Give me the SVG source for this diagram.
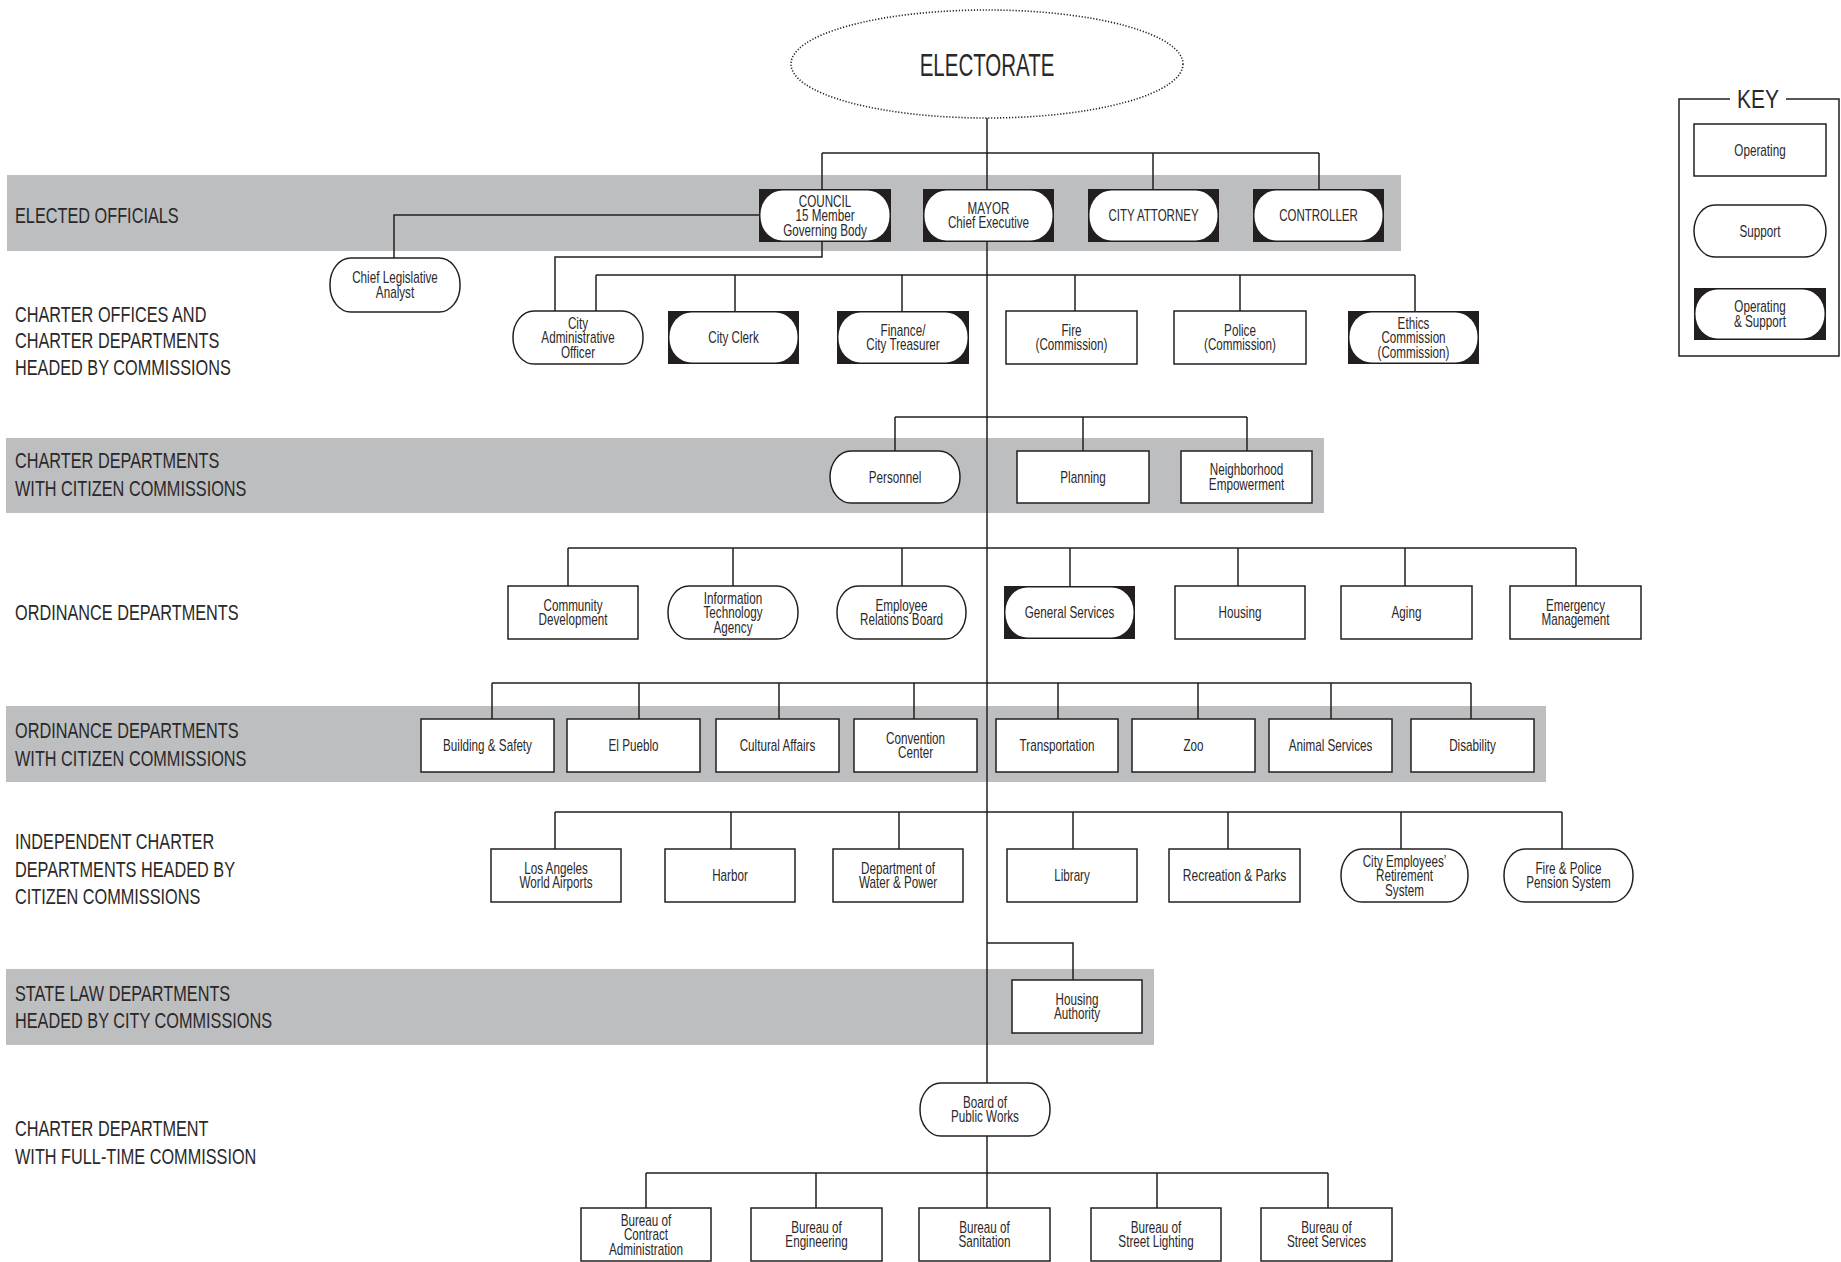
<svg xmlns="http://www.w3.org/2000/svg" width="1841" height="1262" viewBox="0 0 1841 1262">
<style>
.band{fill:#bcbec0}
.op{fill:#fff;stroke:#231f20;stroke-width:1.5}
.sup{fill:#fff;stroke:#231f20;stroke-width:1.5}
.osb{fill:#231f20}
.osw{fill:#fff}
.c{fill:none;stroke:#231f20;stroke-width:1.5}
.t{font-family:"Liberation Sans",Arial,sans-serif;font-size:16px;fill:#2b2829;text-anchor:middle}
.l{font-family:"Liberation Sans",Arial,sans-serif;font-size:22px;fill:#2b2829}
</style>
<rect width="1841" height="1262" fill="#fff"/>
<g id="bands">
<rect class="band" x="7" y="175" width="1394" height="76"/>
<rect class="band" x="6" y="438" width="1318" height="75"/>
<rect class="band" x="6" y="706" width="1540" height="76"/>
<rect class="band" x="6" y="969" width="1148" height="76"/>
</g>
<g id="row-labels">
<text class="l" transform="translate(15,0) scale(.74 1)"><tspan x="0" y="223">ELECTED OFFICIALS</tspan></text>
<text class="l" transform="translate(15,0) scale(.74 1)"><tspan x="0" y="322">CHARTER OFFICES AND</tspan><tspan x="0" y="348.5">CHARTER DEPARTMENTS</tspan><tspan x="0" y="375.5">HEADED BY COMMISSIONS</tspan></text>
<text class="l" transform="translate(15,0) scale(.74 1)"><tspan x="0" y="468.5">CHARTER DEPARTMENTS</tspan><tspan x="0" y="496">WITH CITIZEN COMMISSIONS</tspan></text>
<text class="l" transform="translate(15,0) scale(.74 1)"><tspan x="0" y="620">ORDINANCE DEPARTMENTS</tspan></text>
<text class="l" transform="translate(15,0) scale(.74 1)"><tspan x="0" y="738">ORDINANCE DEPARTMENTS</tspan><tspan x="0" y="766">WITH CITIZEN COMMISSIONS</tspan></text>
<text class="l" transform="translate(15,0) scale(.74 1)"><tspan x="0" y="849">INDEPENDENT CHARTER</tspan><tspan x="0" y="877">DEPARTMENTS HEADED BY</tspan><tspan x="0" y="904">CITIZEN COMMISSIONS</tspan></text>
<text class="l" transform="translate(15,0) scale(.74 1)"><tspan x="0" y="1001">STATE LAW DEPARTMENTS</tspan><tspan x="0" y="1028">HEADED BY CITY COMMISSIONS</tspan></text>
<text class="l" transform="translate(15,0) scale(.74 1)"><tspan x="0" y="1136">CHARTER DEPARTMENT</tspan><tspan x="0" y="1164">WITH FULL-TIME COMMISSION</tspan></text>
</g>
<g id="connectors">
<path class="c" d="M987,118 V1208"/>
<path class="c" d="M822,153 H1319 M822,153 V189 M1153,153 V189 M1319,153 V189"/>
<path class="c" d="M759,215 H394 V258"/>
<path class="c" d="M822,242 V257 H555 V311"/>
<path class="c" d="M596,275 H1415 M596,275 V311 M735,275 V311 M902,275 V311 M1075,275 V311 M1240,275 V311 M1415,275 V311"/>
<path class="c" d="M895,417 H1247 M895,417 V451 M1083,417 V451 M1247,417 V451"/>
<path class="c" d="M568,548 H1576 M568,548 V586 M733,548 V586 M902,548 V586 M1070,548 V586 M1238,548 V586 M1405,548 V586 M1576,548 V586"/>
<path class="c" d="M492,683 H1471 M492,683 V719 M639,683 V719 M779,683 V719 M914,683 V719 M1058,683 V719 M1198,683 V719 M1331,683 V719 M1471,683 V719"/>
<path class="c" d="M555,812 H1562 M555,812 V849 M731,812 V849 M899,812 V849 M1073,812 V849 M1228,812 V849 M1401,812 V849 M1562,812 V849"/>
<path class="c" d="M987,943 H1073 V980"/>
<path class="c" d="M646,1173 H1328 M646,1173 V1208 M816,1173 V1208 M1157,1173 V1208 M1328,1173 V1208"/>
</g>
<g id="electorate">
<ellipse cx="987" cy="64" rx="196" ry="54" fill="#fff" stroke="#231f20" stroke-width="1.6" stroke-dasharray="1.2 1.8"/>
<text class="t" style="font-size:32px" transform="translate(987,0) scale(.64 1)"><tspan x="0" y="76">ELECTORATE</tspan></text>
</g>
<g id="council">
<rect class="osb" x="759" y="189" width="132" height="53"/><rect class="osw" x="760.5" y="190.5" width="129" height="50" rx="22" ry="24"/>
<text class="t" transform="translate(825,0) scale(.73 1)"><tspan x="0" y="206.7">COUNCIL</tspan><tspan x="0" y="221.2">15 Member</tspan><tspan x="0" y="235.7">Governing Body</tspan></text>
</g>
<g id="mayor">
<rect class="osb" x="923" y="189" width="131" height="53"/><rect class="osw" x="924.5" y="190.5" width="128" height="50" rx="22" ry="24"/>
<text class="t" transform="translate(988.5,0) scale(.73 1)"><tspan x="0" y="214">MAYOR</tspan><tspan x="0" y="228.5">Chief Executive</tspan></text>
</g>
<g id="city-attorney">
<rect class="osb" x="1088" y="189" width="131" height="53"/><rect class="osw" x="1089.5" y="190.5" width="128" height="50" rx="22" ry="24"/>
<text class="t" transform="translate(1153.5,0) scale(.72 1)"><tspan x="0" y="221.2">CITY ATTORNEY</tspan></text>
</g>
<g id="controller">
<rect class="osb" x="1253" y="189" width="131" height="53"/><rect class="osw" x="1254.5" y="190.5" width="128" height="50" rx="22" ry="24"/>
<text class="t" transform="translate(1318.5,0) scale(.72 1)"><tspan x="0" y="221.2">CONTROLLER</tspan></text>
</g>
<g id="chief-legislative-analyst">
<rect class="sup" x="330" y="258" width="130" height="54" rx="21" ry="26"/>
<text class="t" transform="translate(395,0) scale(.73 1)"><tspan x="0" y="283.5">Chief Legislative</tspan><tspan x="0" y="298">Analyst</tspan></text>
</g>
<g id="cao">
<rect class="sup" x="513" y="311" width="130" height="53" rx="21" ry="26"/>
<text class="t" transform="translate(578,0) scale(.73 1)"><tspan x="0" y="328.7">City</tspan><tspan x="0" y="343.2">Administrative</tspan><tspan x="0" y="357.7">Officer</tspan></text>
</g>
<g id="city-clerk">
<rect class="osb" x="668" y="311" width="131" height="53"/><rect class="osw" x="669.5" y="312.5" width="128" height="50" rx="22" ry="24"/>
<text class="t" transform="translate(733.5,0) scale(.73 1)"><tspan x="0" y="343.2">City Clerk</tspan></text>
</g>
<g id="finance">
<rect class="osb" x="837" y="311" width="132" height="53"/><rect class="osw" x="838.5" y="312.5" width="129" height="50" rx="22" ry="24"/>
<text class="t" transform="translate(903,0) scale(.73 1)"><tspan x="0" y="336">Finance/</tspan><tspan x="0" y="350.5">City Treasurer</tspan></text>
</g>
<g id="fire">
<rect class="op" x="1006" y="311" width="131" height="53"/>
<text class="t" transform="translate(1071.5,0) scale(.73 1)"><tspan x="0" y="336">Fire</tspan><tspan x="0" y="350.5">(Commission)</tspan></text>
</g>
<g id="police">
<rect class="op" x="1174" y="311" width="132" height="53"/>
<text class="t" transform="translate(1240,0) scale(.73 1)"><tspan x="0" y="336">Police</tspan><tspan x="0" y="350.5">(Commission)</tspan></text>
</g>
<g id="ethics">
<rect class="osb" x="1348" y="311" width="131" height="53"/><rect class="osw" x="1349.5" y="312.5" width="128" height="50" rx="22" ry="24"/>
<text class="t" transform="translate(1413.5,0) scale(.73 1)"><tspan x="0" y="328.7">Ethics</tspan><tspan x="0" y="343.2">Commission</tspan><tspan x="0" y="357.7">(Commission)</tspan></text>
</g>
<g id="personnel">
<rect class="sup" x="830" y="451" width="130" height="52" rx="21" ry="26"/>
<text class="t" transform="translate(895,0) scale(.73 1)"><tspan x="0" y="482.7">Personnel</tspan></text>
</g>
<g id="planning">
<rect class="op" x="1017" y="451" width="132" height="52"/>
<text class="t" transform="translate(1083,0) scale(.73 1)"><tspan x="0" y="482.7">Planning</tspan></text>
</g>
<g id="neighborhood-empowerment">
<rect class="op" x="1181" y="451" width="131" height="52"/>
<text class="t" transform="translate(1246.5,0) scale(.73 1)"><tspan x="0" y="475.5">Neighborhood</tspan><tspan x="0" y="490">Empowerment</tspan></text>
</g>
<g id="community-development">
<rect class="op" x="508" y="586" width="130" height="53"/>
<text class="t" transform="translate(573,0) scale(.73 1)"><tspan x="0" y="611">Community</tspan><tspan x="0" y="625.5">Development</tspan></text>
</g>
<g id="ita">
<rect class="sup" x="668" y="586" width="130" height="53" rx="21" ry="26"/>
<text class="t" transform="translate(733,0) scale(.73 1)"><tspan x="0" y="603.7">Information</tspan><tspan x="0" y="618.2">Technology</tspan><tspan x="0" y="632.7">Agency</tspan></text>
</g>
<g id="erb">
<rect class="sup" x="837" y="586" width="129" height="53" rx="21" ry="26"/>
<text class="t" transform="translate(901.5,0) scale(.73 1)"><tspan x="0" y="611">Employee</tspan><tspan x="0" y="625.5">Relations Board</tspan></text>
</g>
<g id="general-services">
<rect class="osb" x="1004" y="586" width="131" height="53"/><rect class="osw" x="1005.5" y="587.5" width="128" height="50" rx="22" ry="24"/>
<text class="t" transform="translate(1069.5,0) scale(.73 1)"><tspan x="0" y="618.2">General Services</tspan></text>
</g>
<g id="housing">
<rect class="op" x="1175" y="586" width="130" height="53"/>
<text class="t" transform="translate(1240,0) scale(.73 1)"><tspan x="0" y="618.2">Housing</tspan></text>
</g>
<g id="aging">
<rect class="op" x="1341" y="586" width="131" height="53"/>
<text class="t" transform="translate(1406.5,0) scale(.73 1)"><tspan x="0" y="618.2">Aging</tspan></text>
</g>
<g id="emergency-management">
<rect class="op" x="1510" y="586" width="131" height="53"/>
<text class="t" transform="translate(1575.5,0) scale(.73 1)"><tspan x="0" y="611">Emergency</tspan><tspan x="0" y="625.5">Management</tspan></text>
</g>
<g id="building-safety">
<rect class="op" x="421" y="719" width="133" height="53"/>
<text class="t" transform="translate(487.5,0) scale(.73 1)"><tspan x="0" y="751.2">Building &amp; Safety</tspan></text>
</g>
<g id="el-pueblo">
<rect class="op" x="567" y="719" width="133" height="53"/>
<text class="t" transform="translate(633.5,0) scale(.73 1)"><tspan x="0" y="751.2">El Pueblo</tspan></text>
</g>
<g id="cultural-affairs">
<rect class="op" x="716" y="719" width="123" height="53"/>
<text class="t" transform="translate(777.5,0) scale(.73 1)"><tspan x="0" y="751.2">Cultural Affairs</tspan></text>
</g>
<g id="convention-center">
<rect class="op" x="854" y="719" width="123" height="53"/>
<text class="t" transform="translate(915.5,0) scale(.73 1)"><tspan x="0" y="744">Convention</tspan><tspan x="0" y="758.5">Center</tspan></text>
</g>
<g id="transportation">
<rect class="op" x="996" y="719" width="122" height="53"/>
<text class="t" transform="translate(1057,0) scale(.73 1)"><tspan x="0" y="751.2">Transportation</tspan></text>
</g>
<g id="zoo">
<rect class="op" x="1132" y="719" width="123" height="53"/>
<text class="t" transform="translate(1193.5,0) scale(.73 1)"><tspan x="0" y="751.2">Zoo</tspan></text>
</g>
<g id="animal-services">
<rect class="op" x="1269" y="719" width="123" height="53"/>
<text class="t" transform="translate(1330.5,0) scale(.73 1)"><tspan x="0" y="751.2">Animal Services</tspan></text>
</g>
<g id="disability">
<rect class="op" x="1411" y="719" width="123" height="53"/>
<text class="t" transform="translate(1472.5,0) scale(.73 1)"><tspan x="0" y="751.2">Disability</tspan></text>
</g>
<g id="lawa">
<rect class="op" x="491" y="849" width="130" height="53"/>
<text class="t" transform="translate(556,0) scale(.73 1)"><tspan x="0" y="874">Los Angeles</tspan><tspan x="0" y="888.5">World Airports</tspan></text>
</g>
<g id="harbor">
<rect class="op" x="665" y="849" width="130" height="53"/>
<text class="t" transform="translate(730,0) scale(.73 1)"><tspan x="0" y="881.2">Harbor</tspan></text>
</g>
<g id="dwp">
<rect class="op" x="833" y="849" width="130" height="53"/>
<text class="t" transform="translate(898,0) scale(.73 1)"><tspan x="0" y="874">Department of</tspan><tspan x="0" y="888.5">Water &amp; Power</tspan></text>
</g>
<g id="library">
<rect class="op" x="1007" y="849" width="130" height="53"/>
<text class="t" transform="translate(1072,0) scale(.73 1)"><tspan x="0" y="881.2">Library</tspan></text>
</g>
<g id="recreation-parks">
<rect class="op" x="1169" y="849" width="131" height="53"/>
<text class="t" transform="translate(1234.5,0) scale(.75 1)"><tspan x="0" y="881.2">Recreation &amp; Parks</tspan></text>
</g>
<g id="cers">
<rect class="sup" x="1341" y="849" width="127" height="53" rx="21" ry="26"/>
<text class="t" transform="translate(1404.5,0) scale(.73 1)"><tspan x="0" y="866.7">City Employees’</tspan><tspan x="0" y="881.2">Retirement</tspan><tspan x="0" y="895.7">System</tspan></text>
</g>
<g id="fire-police-pension">
<rect class="sup" x="1504" y="849" width="129" height="53" rx="21" ry="26"/>
<text class="t" transform="translate(1568.5,0) scale(.73 1)"><tspan x="0" y="874">Fire &amp; Police</tspan><tspan x="0" y="888.5">Pension System</tspan></text>
</g>
<g id="housing-authority">
<rect class="op" x="1012" y="980" width="130" height="53"/>
<text class="t" transform="translate(1077,0) scale(.73 1)"><tspan x="0" y="1005">Housing</tspan><tspan x="0" y="1019.5">Authority</tspan></text>
</g>
<g id="board-public-works">
<rect class="sup" x="920" y="1083" width="130" height="53" rx="21" ry="26"/>
<text class="t" transform="translate(985,0) scale(.73 1)"><tspan x="0" y="1108">Board of</tspan><tspan x="0" y="1122.5">Public Works</tspan></text>
</g>
<g id="bureau-contract">
<rect class="op" x="581" y="1208" width="130" height="53"/>
<text class="t" transform="translate(646,0) scale(.73 1)"><tspan x="0" y="1225.7">Bureau of</tspan><tspan x="0" y="1240.2">Contract</tspan><tspan x="0" y="1254.7">Administration</tspan></text>
</g>
<g id="bureau-engineering">
<rect class="op" x="751" y="1208" width="131" height="53"/>
<text class="t" transform="translate(816.5,0) scale(.73 1)"><tspan x="0" y="1233">Bureau of</tspan><tspan x="0" y="1247.5">Engineering</tspan></text>
</g>
<g id="bureau-sanitation">
<rect class="op" x="919" y="1208" width="131" height="53"/>
<text class="t" transform="translate(984.5,0) scale(.73 1)"><tspan x="0" y="1233">Bureau of</tspan><tspan x="0" y="1247.5">Sanitation</tspan></text>
</g>
<g id="bureau-street-lighting">
<rect class="op" x="1091" y="1208" width="130" height="53"/>
<text class="t" transform="translate(1156,0) scale(.73 1)"><tspan x="0" y="1233">Bureau of</tspan><tspan x="0" y="1247.5">Street Lighting</tspan></text>
</g>
<g id="bureau-street-services">
<rect class="op" x="1261" y="1208" width="131" height="53"/>
<text class="t" transform="translate(1326.5,0) scale(.73 1)"><tspan x="0" y="1233">Bureau of</tspan><tspan x="0" y="1247.5">Street Services</tspan></text>
</g>
<g id="key">
<path class="c" d="M1730,99 H1679 V356 H1839 V99 H1786"/>
<text class="t" style="font-size:25px" transform="translate(1758,0) scale(.84 1)"><tspan x="0" y="108">KEY</tspan></text>
<rect class="op" x="1694" y="124" width="132" height="52"/>
<text class="t" transform="translate(1760,0) scale(.73 1)"><tspan x="0" y="155.7">Operating</tspan></text>
<rect class="sup" x="1694" y="205" width="132" height="52" rx="21" ry="26"/>
<text class="t" transform="translate(1760,0) scale(.73 1)"><tspan x="0" y="236.7">Support</tspan></text>
<rect class="osb" x="1694" y="288" width="132" height="52"/><rect class="osw" x="1695.5" y="289.5" width="129" height="49" rx="22" ry="24"/>
<text class="t" transform="translate(1760,0) scale(.73 1)"><tspan x="0" y="312.5">Operating</tspan><tspan x="0" y="327">&amp; Support</tspan></text>
</g>
</svg>
